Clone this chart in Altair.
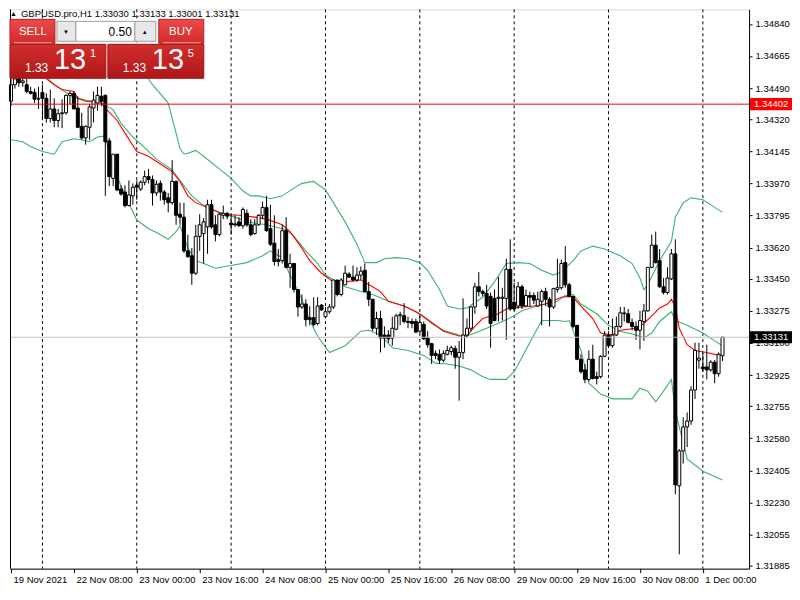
import altair as alt
import pandas as pd

# ---------------- data ----------------
opens = [1.34418,1.34508,1.34540,1.34519,1.34508,1.34471,1.34466,1.34429,1.34466,1.34434,
1.34324,1.34376,1.34313,1.34350,1.34355,1.34450,1.34461,1.34381,1.34281,1.34218,
1.34276,1.34381,1.34408,1.34445,1.34450,1.34202,1.33997,1.34129,1.33939,1.33923,
1.33849,1.33902,1.33960,1.33939,1.33976,1.34007,1.33991,1.33918,1.33970,1.33923,
1.33891,1.33865,1.33981,1.33802,1.33786,1.33602,1.33575,1.33480,1.33681,1.33696,
1.33733,1.33854,1.33744,1.33691,1.33796,1.33807,1.33754,1.33749,1.33760,1.33739,
1.33807,1.33744,1.33696,1.33744,1.33796,1.33839,1.33723,1.33644,1.33554,1.33549,
1.33712,1.33512,1.33533,1.33391,1.33296,1.33312,1.33238,1.33238,1.33206,1.33306,
1.33243,1.33270,1.33296,1.33443,1.33364,1.33417,1.33475,1.33459,1.33443,1.33470,
1.33496,1.33380,1.33338,1.33180,1.33233,1.33143,1.33143,1.33127,1.33175,1.33248,
1.33248,1.33217,1.33217,1.33217,1.33164,1.33201,1.33127,1.33096,1.33043,1.33038,
1.33006,1.33038,1.33053,1.33069,1.33022,1.33048,1.33143,1.33180,1.33296,1.33406,
1.33380,1.33370,1.33354,1.33343,1.33343,1.33343,1.33343,1.33501,1.33322,1.33301,
1.33406,1.33301,1.33359,1.33359,1.33301,1.33327,1.33380,1.33338,1.33296,1.33391,
1.33401,1.33538,1.33417,1.33354,1.33196,1.33011,1.32953,1.32901,1.33011,1.32916,
1.32916,1.33027,1.33143,1.33085,1.33143,1.33190,1.33259,1.33259,1.33212,1.33190,
1.33169,1.33217,1.33275,1.33512,1.33633,1.33549,1.33406,1.33375,1.33449,1.33586,
1.32321,1.32511,1.32642,1.32674,1.32843,1.33006,1.32969,1.32969,1.32953,1.32995,
1.32932,1.33030]
highs = [1.34550,1.34576,1.34571,1.34561,1.34540,1.34497,1.34487,1.34497,1.34508,1.34461,
1.34482,1.34434,1.34376,1.34429,1.34455,1.34471,1.34471,1.34445,1.34355,1.34287,
1.34403,1.34471,1.34497,1.34497,1.34455,1.34218,1.34129,1.34129,1.33960,1.33960,
1.33986,1.33970,1.33986,1.33986,1.34039,1.34049,1.34013,1.33986,1.33986,1.33934,
1.33918,1.34097,1.33986,1.33865,1.33865,1.33691,1.33617,1.33744,1.33802,1.33781,
1.33881,1.33881,1.33796,1.33812,1.33849,1.33812,1.33802,1.33796,1.33786,1.33839,
1.33828,1.33775,1.33775,1.33802,1.33870,1.33902,1.33854,1.33796,1.33612,1.33744,
1.33786,1.33586,1.33533,1.33391,1.33364,1.33338,1.33301,1.33349,1.33349,1.33312,
1.33296,1.33312,1.33443,1.33443,1.33454,1.33522,1.33486,1.33522,1.33512,1.33517,
1.33533,1.33433,1.33338,1.33270,1.33275,1.33190,1.33169,1.33243,1.33259,1.33270,
1.33317,1.33243,1.33233,1.33233,1.33248,1.33217,1.33164,1.33101,1.33059,1.33064,
1.33059,1.33085,1.33085,1.33085,1.33111,1.33343,1.33233,1.33301,1.33428,1.33486,
1.33391,1.33417,1.33375,1.33391,1.33459,1.33401,1.33559,1.33665,1.33428,1.33433,
1.33417,1.33391,1.33380,1.33375,1.33380,1.33391,1.33401,1.33349,1.33401,1.33559,
1.33554,1.33628,1.33428,1.33354,1.33196,1.33038,1.32985,1.33059,1.33090,1.32943,
1.33032,1.33164,1.33164,1.33233,1.33243,1.33296,1.33296,1.33285,1.33233,1.33217,
1.33275,1.33312,1.33512,1.33691,1.33707,1.33612,1.33454,1.33512,1.33612,1.33665,
1.32521,1.32695,1.32721,1.32864,1.33101,1.33101,1.33048,1.33090,1.33006,1.33006,
1.33048,1.33133]
lows = [1.34392,1.34487,1.34497,1.34497,1.34461,1.34455,1.34408,1.34376,1.34324,1.34302,
1.34302,1.34276,1.34276,1.34271,1.34345,1.34403,1.34376,1.34271,1.34208,1.34181,
1.34208,1.34302,1.34366,1.34392,1.33902,1.33955,1.33955,1.33928,1.33902,1.33839,
1.33844,1.33854,1.33881,1.33928,1.33960,1.33970,1.33849,1.33902,1.33876,1.33854,
1.33812,1.33854,1.33744,1.33744,1.33591,1.33565,1.33417,1.33470,1.33602,1.33533,
1.33586,1.33723,1.33654,1.33681,1.33775,1.33775,1.33691,1.33733,1.33733,1.33723,
1.33733,1.33681,1.33691,1.33739,1.33775,1.33707,1.33628,1.33522,1.33517,1.33533,
1.33507,1.33401,1.33375,1.33243,1.33285,1.33190,1.33196,1.33190,1.33196,1.33275,
1.33233,1.33259,1.33285,1.33354,1.33354,1.33417,1.33454,1.33433,1.33433,1.33443,
1.33380,1.33301,1.33164,1.33143,1.33048,1.33074,1.33101,1.33085,1.33169,1.33196,
1.33206,1.33180,1.33180,1.33154,1.33154,1.33117,1.33074,1.32985,1.33011,1.32985,
1.32995,1.33032,1.33032,1.32959,1.32785,1.33011,1.33127,1.33164,1.33259,1.33354,
1.33354,1.33285,1.33074,1.33217,1.33217,1.33222,1.33117,1.33275,1.33275,1.33285,
1.33285,1.33296,1.33296,1.33312,1.33296,1.33196,1.33301,1.33190,1.33285,1.33375,
1.33391,1.33401,1.33349,1.33180,1.33006,1.32932,1.32880,1.32890,1.32901,1.32874,
1.32906,1.33022,1.33074,1.33074,1.33138,1.33180,1.33217,1.33206,1.33169,1.33117,
1.33064,1.33111,1.33270,1.33507,1.33533,1.33401,1.33364,1.33364,1.33443,1.32274,
1.31947,1.32442,1.32532,1.32653,1.32795,1.32959,1.32943,1.32901,1.32943,1.32880,
1.32916,1.33001]
closes = [1.34508,1.34540,1.34519,1.34529,1.34471,1.34461,1.34429,1.34434,1.34434,1.34324,
1.34376,1.34313,1.34350,1.34355,1.34450,1.34461,1.34376,1.34276,1.34218,1.34281,
1.34387,1.34424,1.34450,1.34418,1.34197,1.34007,1.34129,1.33934,1.33912,1.33849,
1.33907,1.33949,1.33949,1.33976,1.34007,1.33991,1.33918,1.33965,1.33923,1.33881,
1.33865,1.33981,1.33796,1.33786,1.33602,1.33570,1.33480,1.33681,1.33744,1.33760,
1.33854,1.33733,1.33691,1.33802,1.33807,1.33791,1.33744,1.33744,1.33739,1.33828,
1.33744,1.33691,1.33744,1.33796,1.33839,1.33712,1.33638,1.33544,1.33544,1.33712,
1.33512,1.33533,1.33391,1.33296,1.33312,1.33227,1.33227,1.33201,1.33301,1.33280,
1.33270,1.33296,1.33443,1.33364,1.33443,1.33480,1.33459,1.33443,1.33470,1.33491,
1.33380,1.33338,1.33180,1.33233,1.33127,1.33127,1.33122,1.33180,1.33248,1.33254,
1.33217,1.33212,1.33206,1.33159,1.33212,1.33122,1.33090,1.33032,1.33032,1.33006,
1.33043,1.33059,1.33074,1.33022,1.33048,1.33143,1.33180,1.33296,1.33406,1.33380,
1.33370,1.33301,1.33206,1.33222,1.33349,1.33349,1.33501,1.33285,1.33285,1.33406,
1.33301,1.33359,1.33349,1.33333,1.33338,1.33380,1.33338,1.33296,1.33396,1.33401,
1.33533,1.33417,1.33354,1.33190,1.33011,1.32943,1.32901,1.33011,1.32906,1.32906,
1.33027,1.33143,1.33085,1.33143,1.33190,1.33264,1.33264,1.33212,1.33190,1.33169,
1.33222,1.33275,1.33512,1.33633,1.33538,1.33406,1.33375,1.33454,1.33586,1.32326,
1.32511,1.32642,1.32674,1.32843,1.33059,1.33017,1.32959,1.32953,1.32995,1.32932,
1.33038,1.33131]

# indicator lines (bar index, price)
upper_idx = [33,36,40,42,43,44,45,47,49,53,56,59,61,63,66,69,72,74,77,80,82,85,88,90,93,95,98,101,104,106,109,111,114,116,120,123,126,129,132,135,138,140,143,145,148,151,155,158,160,161,162,165,168,169,171,173,176,179,181]
upper_val = [1.34603,1.34508,1.34408,1.34244,1.34160,1.34129,1.34134,1.34150,1.34118,1.34049,1.33997,1.33928,1.33902,1.33902,1.33886,1.33902,1.33944,1.33970,1.33981,1.33934,1.33865,1.33760,1.33638,1.33538,1.33538,1.33559,1.33565,1.33559,1.33538,1.33496,1.33391,1.33301,1.33285,1.33291,1.33349,1.33433,1.33533,1.33538,1.33533,1.33496,1.33470,1.33486,1.33549,1.33602,1.33628,1.33612,1.33575,1.33533,1.33454,1.33391,1.33417,1.33549,1.33654,1.33786,1.33865,1.33891,1.33881,1.33839,1.33812]
middle_idx = [9,11,16,19,23,26,28,31,34,37,41,43,46,49,53,57,60,65,70,72,75,78,80,85,89,92,96,100,104,107,110,114,116,118,121,125,128,130,133,136,139,141,143,145,149,152,155,159,161,163,165,168,169,172,176,179,181]
middle_val = [1.34550,1.34508,1.34439,1.34424,1.34408,1.34371,1.34297,1.34223,1.34165,1.34102,1.34044,1.33986,1.33902,1.33849,1.33812,1.33786,1.33760,1.33744,1.33717,1.33681,1.33602,1.33533,1.33470,1.33406,1.33380,1.33364,1.33327,1.33301,1.33259,1.33206,1.33169,1.33143,1.33138,1.33154,1.33180,1.33217,1.33248,1.33275,1.33296,1.33312,1.33327,1.33359,1.33364,1.33312,1.33259,1.33196,1.33164,1.33143,1.33127,1.33154,1.33217,1.33270,1.33222,1.33196,1.33154,1.33111,1.33085]
lower_idx = [0,3,5,8,11,13,16,18,20,22,24,25,27,29,32,35,37,40,42,43,45,47,49,52,56,60,64,66,69,71,74,76,78,81,85,89,91,94,97,101,105,108,111,114,117,120,122,126,128,130,133,135,139,141,142,145,147,150,153,158,160,162,164,166,168,169,170,172,176,181]
lower_val = [1.34208,1.34197,1.34171,1.34144,1.34129,1.34197,1.34213,1.34208,1.34197,1.34223,1.34229,1.34129,1.34007,1.33907,1.33770,1.33723,1.33702,1.33665,1.33707,1.33739,1.33617,1.33549,1.33533,1.33507,1.33522,1.33538,1.33575,1.33602,1.33565,1.33470,1.33338,1.33222,1.33138,1.33048,1.33085,1.33164,1.33169,1.33143,1.33074,1.33059,1.33032,1.32990,1.32985,1.32974,1.32953,1.32916,1.32901,1.32901,1.32943,1.33022,1.33143,1.33222,1.33222,1.33217,1.33222,1.33059,1.32880,1.32821,1.32795,1.32795,1.32853,1.32837,1.32779,1.32837,1.32901,1.32732,1.32642,1.32468,1.32400,1.32352]
ma_idx = [9,11,13,16,17,19,23,24,27,29,32,35,38,41,43,45,47,50,54,58,62,65,69,71,74,76,79,82,85,89,92,94,96,100,103,105,108,110,114,116,118,120,124,126,130,133,136,140,142,143,145,148,150,153,155,159,161,163,165,167,168,169,170,172,174,177,180,181]
ma_val = [1.34540,1.34508,1.34482,1.34471,1.34434,1.34418,1.34408,1.34381,1.34313,1.34244,1.34144,1.34118,1.34076,1.34034,1.33981,1.33902,1.33865,1.33839,1.33802,1.33796,1.33786,1.33775,1.33744,1.33707,1.33617,1.33549,1.33480,1.33433,1.33433,1.33443,1.33406,1.33380,1.33327,1.33301,1.33270,1.33243,1.33196,1.33164,1.33138,1.33138,1.33190,1.33233,1.33259,1.33285,1.33296,1.33301,1.33312,1.33349,1.33354,1.33349,1.33301,1.33233,1.33154,1.33143,1.33169,1.33180,1.33206,1.33248,1.33291,1.33312,1.33338,1.33296,1.33180,1.33090,1.33059,1.33048,1.33032,1.33038]

x_tick_bars = [0, 16, 32, 48, 64, 80, 96, 112, 128, 144, 160, 176]
x_tick_labels = ["19 Nov 2021", "22 Nov 08:00", "23 Nov 00:00", "23 Nov 16:00", "24 Nov 08:00",
                 "25 Nov 00:00", "25 Nov 16:00", "26 Nov 08:00", "29 Nov 00:00", "29 Nov 16:00",
                 "30 Nov 08:00", "1 Dec 00:00"]
day_sep_bars = [8, 32, 56, 80, 104, 128, 152, 176]
y_ticks = [1.34840, 1.34665, 1.34490, 1.34320, 1.34145, 1.33970, 1.33795, 1.33620, 1.33450,
           1.33275, 1.33100, 1.32925, 1.32755, 1.32580, 1.32405, 1.32230, 1.32055, 1.31885]
alert_price = [1.34402]
bid_price = [1.33131]
header_text = ["GBPUSD.pro,H1  1.33030 1.33133 1.33001 1.33131"]

# ---------------- chart ----------------
W, H = 740, 560
FONT = "Liberation Sans"
one = pd.DataFrame({"k": [0]})

xs = alt.Scale(domain=[-0.25, 187.75], nice=False, zero=False, padding=0)
ys = alt.Scale(domain=[1.31869, 1.34919], nice=False, zero=False, padding=0)

label_js = "[" + ",".join("'" + s + "'" for s in x_tick_labels) + "]"
x_axis = alt.Axis(values=x_tick_bars, labelExpr=label_js + "[round(datum.value/16)]",
                  title=None, grid=False, tickSize=4, tickColor="black", domainColor="black",
                  labelAlign="left", labelOffset=2, labelPadding=2, labelFlush=False,
                  labelOverlap=False, labelFont=FONT, labelFontSize=9.5, labelColor="black",
                  labelBaseline="top")
y_axis = alt.Axis(orient="right", values=y_ticks, format=".5f", title=None, grid=False,
                  tickSize=3, tickColor="black", domainColor="black", labelPadding=3,
                  labelFont=FONT, labelFontSize=9.5, labelColor="black", labelFlush=False,
                  labelOverlap=False)

X = lambda f: alt.X(f, scale=xs, axis=x_axis)
Y = lambda f: alt.Y(f, scale=ys, axis=y_axis)

candles = pd.DataFrame({"i": list(range(len(closes))), "o": opens, "h": highs,
                        "l": lows, "c": closes})

grid = alt.Chart(pd.DataFrame({"i": day_sep_bars})).mark_rule(
    color="black", strokeDash=[3, 3], strokeWidth=1).encode(x=X("i:Q"))

def line(idx, val, color):
    return alt.Chart(pd.DataFrame({"i": idx, "p": val})).mark_line(
        color=color, strokeWidth=1.1).encode(x=X("i:Q"), y=Y("p:Q"))

bands = [line(upper_idx, upper_val, "#3CB371"),
         line(middle_idx, middle_val, "#3CB371"),
         line(lower_idx, lower_val, "#3CB371"),
         line(ma_idx, ma_val, "#FF0000")]

wicks = alt.Chart(candles).mark_rule(color="black", strokeWidth=1).encode(
    x=X("i:Q"), y=Y("l:Q"), y2="h:Q")
bodies = alt.Chart(candles).mark_bar(size=3, stroke="black", strokeWidth=1).encode(
    x=X("i:Q"), y=Y("o:Q"), y2="c:Q",
    fill=alt.condition("datum.c >= datum.o", alt.value("white"), alt.value("black")))

alert_line = alt.Chart(pd.DataFrame({"p": alert_price})).mark_rule(
    color="#FF0000", strokeWidth=1).encode(y=Y("p:Q"))
bid_line = alt.Chart(pd.DataFrame({"p": bid_price})).mark_rule(
    color="#C0C0C0", strokeWidth=1).encode(y=Y("p:Q"))

left_border = alt.Chart(one).mark_rule(color="black", strokeWidth=1).encode(
    x=alt.value(0.5), y=alt.value(0), y2=alt.value(H))

def price_box(vals, fill):
    df = pd.DataFrame({"p": vals})
    base = alt.Chart(df).transform_calculate(
        lo="datum.p - 0.00033", hi="datum.p + 0.00033",
        txt="format(datum.p, '.5f')")
    box = base.mark_rect(fill=fill).encode(
        x=alt.value(W + 1), x2=alt.value(W + 43), y=Y("lo:Q"), y2="hi:Q")
    txt = base.mark_text(align="left", baseline="middle", color="white",
                         font=FONT, fontSize=9.5).encode(
        x=alt.value(W + 5), y=Y("p:Q"), text="txt:N")
    return [box, txt]

boxes = price_box(alert_price, "#FF0000") + price_box(bid_price, "#000000")

# ---- header and one-click trading panel (UI decoration) ----
def grad(c1, c2):
    return alt.Gradient(gradient="linear", x1=0, x2=0, y1=0, y2=1,
                        stops=[alt.GradientStop(color=c1, offset=0),
                               alt.GradientStop(color=c2, offset=1)])

def rect(x1, x2, y1, y2, fill, stroke=None):
    kw = {"fill": fill}
    if stroke:
        kw["stroke"] = stroke
        kw["strokeWidth"] = 1
    return alt.Chart(one).mark_rect(**kw).encode(
        x=alt.value(x1), x2=alt.value(x2), y=alt.value(y1), y2=alt.value(y2))

def text(t, x, y, size, color="white", align="left", baseline="alphabetic"):
    return alt.Chart(one).mark_text(align=align, baseline=baseline, color=color,
                                    font=FONT, fontSize=size).encode(
        x=alt.value(x), y=alt.value(y), text=alt.value(t))

btn = grad("#EC4A4A", "#D42A2A")
big = grad("#D22E2E", "#B01717")
ui = [
    text("\u25B2", 0, 1, 7, color="black", baseline="top"),
    text(header_text[0], 11, 0, 9.5, color="black", baseline="top"),
    rect(0, 45, 10, 34, btn, "#B42020"),
    rect(4, 42, 33, 34, "#F39A9A"),
    rect(47, 66, 12, 32, "#E8E8E8", "#A0A0A0"),
    rect(66, 125, 12, 32, "#FFFFFF", "#A0A0A0"),
    rect(125, 146, 12, 32, "#E8E8E8", "#A0A0A0"),
    rect(149, 194, 10, 34, btn, "#B42020"),
    rect(153, 191, 33, 34, "#F39A9A"),
    rect(0, 96, 35, 69, big, "#9A1212"),
    rect(98, 194, 35, 69, big, "#9A1212"),
    text("SELL", 23, 26, 11.5, align="center"),
    text("\u25BC", 56, 25, 6, color="black", align="center"),
    text("0.50", 122, 27, 12, color="black", align="right"),
    text("\u25B2", 135, 25, 6, color="black", align="center"),
    text("BUY", 171, 26, 11.5, align="center"),
    text("1.33", 15, 63, 12),
    text("13", 44, 60, 29),
    text("1", 80, 48, 11),
    text("1.33", 113, 63, 12),
    text("13", 142, 60, 29),
    text("5", 178, 48, 11),
]

chart = alt.layer(grid, *bands, wicks, bodies, alert_line, bid_line, left_border,
                  *boxes, *ui).properties(width=W, height=H, padding=0).configure_view(
    strokeWidth=0).configure(background="white")

chart.save("out.html", embed_options={"renderer": "svg", "actions": False})
